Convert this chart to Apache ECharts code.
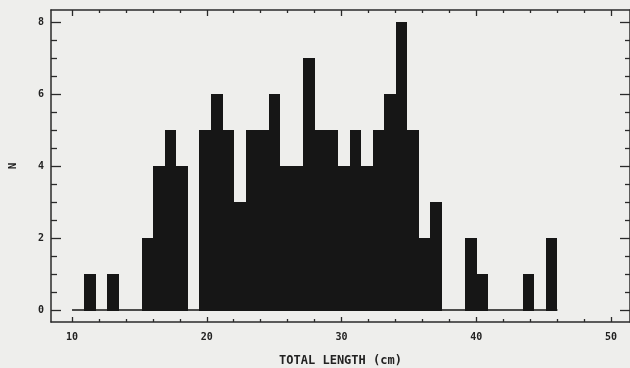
<!DOCTYPE html>
<html>
<head>
<meta charset="utf-8">
<script src="https://cdn.jsdelivr.net/npm/echarts@6/dist/echarts.min.js"></script>
<style>
  html, body { margin: 0; padding: 0; background: #eeeeec; }
  #chart { width: 630px; height: 368px; }
</style>
</head>
<body>
<div id="chart"></div>
<script>
// Length-frequency histogram: number of fish per length class
const binStart = 10.89;   // lower edge of first class (cm)
const binWidth = 0.857;   // class width (cm)
const counts = [1, 0, 1, 0, 0, 2, 4, 5, 4, 0,
                5, 6, 5, 3, 5, 5, 6, 4, 4, 7,
                5, 5, 4, 5, 4, 5, 6, 8, 5, 2,
                3, 0, 0, 2, 1, 0, 0, 0, 1, 0, 2];

const xRange = [8.44, 51.41];
const yRange = [-0.3333, 8.3333];
const xMajor = [10, 20, 30, 40, 50];
const xMinor = [12, 14, 16, 18, 22, 24, 26, 28, 32, 34, 36, 38, 42, 44, 46, 48];
const yMajor = [0, 2, 4, 6, 8];
const yMinor = [0.5, 1, 1.5, 2.5, 3, 3.5, 4.5, 5, 5.5, 6.5, 7, 7.5];

const ink = '#161616';
const axisInk = '#2a2a2a';
const font = '"DejaVu Sans Mono", "Liberation Mono", monospace';

const bins = counts.map((c, i) => [binStart + i * binWidth, binStart + (i + 1) * binWidth, c]);
const baseEnd = binStart + counts.length * binWidth;

function xAxisDef(pos, ticks, len, showLine, showLabels) {
  return {
    type: 'value', position: pos, min: xRange[0], max: xRange[1],
    axisLine: { show: showLine, onZero: false, lineStyle: { color: axisInk, width: 1.5 } },
    axisTick: { show: true, inside: true, length: len, customValues: ticks,
                lineStyle: { color: axisInk, width: 1.3 } },
    axisLabel: showLabels
      ? { show: true, customValues: xMajor, margin: 10, color: '#222',
          fontFamily: font, fontSize: 10, fontWeight: 'bold' }
      : { show: false },
    splitLine: { show: false }
  };
}
function yAxisDef(pos, ticks, len, showLine, showLabels) {
  return {
    type: 'value', position: pos, min: yRange[0], max: yRange[1],
    axisLine: { show: showLine, onZero: false, lineStyle: { color: axisInk, width: 1.5 } },
    axisTick: { show: true, inside: true, length: len, customValues: ticks,
                lineStyle: { color: axisInk, width: 1.3 } },
    axisLabel: showLabels
      ? { show: true, customValues: yMajor, margin: 7, color: '#222',
          fontFamily: font, fontSize: 10, fontWeight: 'bold' }
      : { show: false },
    splitLine: { show: false }
  };
}

const xBottom = xAxisDef('bottom', xMajor, 5, true, true);
xBottom.name = 'TOTAL LENGTH (cm)';
xBottom.nameLocation = 'middle';
xBottom.nameGap = 33;
xBottom.nameTextStyle = { color: '#222', fontFamily: font, fontSize: 12, fontWeight: 'bold' };

const yLeft = yAxisDef('left', yMajor, 10, true, true);
yLeft.name = 'N';
yLeft.nameLocation = 'middle';
yLeft.nameGap = 32;
yLeft.nameTextStyle = { color: '#222', fontFamily: font, fontSize: 11, fontWeight: 'bold' };

const chart = echarts.init(document.getElementById('chart'), null, { renderer: 'canvas' });
chart.setOption({
  backgroundColor: '#eeeeec',
  animation: false,
  grid: { left: 51, right: 0, top: 10, bottom: 46, containLabel: false, outerBoundsMode: 'none' },
  xAxis: [
    xBottom,
    xAxisDef('bottom', xMinor, 3, false, false),
    xAxisDef('top', xMajor, 6, true, false),
    xAxisDef('top', xMinor, 3, false, false)
  ],
  yAxis: [
    yLeft,
    yAxisDef('left', yMinor, 6, false, false),
    yAxisDef('right', yMajor, 10, true, false),
    yAxisDef('right', yMinor, 5, false, false)
  ],
  series: [
    {
      type: 'line',
      xAxisIndex: 0, yAxisIndex: 0,
      data: [[10, 0], [baseEnd, 0]],
      symbol: 'none',
      lineStyle: { color: ink, width: 1.5 },
      z: 1
    },
    {
      type: 'custom',
      xAxisIndex: 0, yAxisIndex: 0,
      data: bins,
      encode: { x: [0, 1], y: 2 },
      renderItem: function (params, api) {
        const v = api.value(2);
        if (!v) return null;
        // snap to whole pixels so neighbouring classes merge without seams
        const p0 = api.coord([api.value(0), v]).map(Math.round);
        const p1 = api.coord([api.value(1), 0]).map(Math.round);
        return {
          type: 'rect',
          shape: { x: p0[0], y: p0[1], width: p1[0] - p0[0], height: p1[1] - p0[1] + 1 },
          style: { fill: ink }
        };
      },
      z: 2
    }
  ]
});
</script>
</body>
</html>
